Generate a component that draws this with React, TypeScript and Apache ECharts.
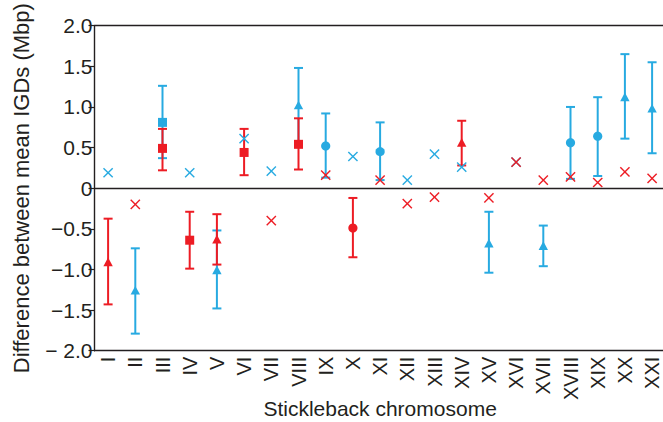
import React, { useEffect, useRef } from "react";
import * as echarts from "echarts";

const categories = ["I","II","III","IV","V","VI","VII","VIII","IX","X","XI","XII","XIII","XIV","XV","XVI","XVII","XVIII","XIX","XX","XXI"];

const redValue = [-0.92, -0.20, 0.49, -0.64, -0.64, 0.44, -0.40, 0.54, 0.16, -0.49, 0.10, -0.19, -0.11, 0.55, -0.12, 0.32, 0.10, 0.14, 0.07, 0.20, 0.12];
const redLow: (number | null)[] = [-1.43, null, 0.22, -0.99, -0.94, 0.16, null, 0.23, null, -0.85, null, null, null, 0.28, null, null, null, null, null, null, null];
const redHigh: (number | null)[] = [-0.375, null, 0.73, -0.29, -0.32, 0.73, null, 0.86, null, -0.12, null, null, null, 0.83, null, null, null, null, null, null, null];
const redMarker = ["triangle","cross","square","square","triangle","square","cross","square","cross","circle","cross","cross","cross","triangle","cross","cross","cross","cross","cross","cross","cross"];

const blueValue = [0.19, -1.27, 0.81, 0.19, -1.02, 0.61, 0.21, 1.01, 0.52, 0.39, 0.45, 0.10, 0.42, 0.26, -0.69, 0.32, -0.72, 0.56, 0.64, 1.11, 0.97];
const blueLow: (number | null)[] = [null, -1.79, 0.37, null, -1.48, null, null, 0.54, 0.13, null, 0.10, null, null, null, -1.04, null, -0.96, 0.115, 0.15, 0.61, 0.43];
const blueHigh: (number | null)[] = [null, -0.74, 1.26, null, -0.52, null, null, 1.48, 0.92, null, 0.81, null, null, null, -0.29, null, -0.46, 1.00, 1.12, 1.65, 1.55];
const blueMarker = ["cross","triangle","square","cross","triangle","cross","cross","triangle","circle","cross","circle","cross","cross","cross","triangle","cross","triangle","circle","circle","triangle","triangle"];

const yTicks = { min: -2, max: 2, interval: 0.5 };

const RED = "#ED1C24";
const BLUE = "#27AAE1";
const INK = "#231F20";
const FONT = "'Liberation Sans', Arial, Helvetica, sans-serif";

function barSeries(name: string, values: number[], low: (number | null)[], high: (number | null)[], color: string) {
  return {
    name,
    type: "custom",
    xAxisIndex: 0,
    yAxisIndex: 0,
    data: values.map((v, i) => [i, v]),
    renderItem: (params: any, api: any) => {
      const i = params.dataIndex;
      const lo = low[i];
      const hi = high[i];
      if (lo == null || hi == null) return { type: "group", children: [] };
      const pLo = api.coord([i, lo]);
      const pHi = api.coord([i, hi]);
      const x = pLo[0];
      const cap = 4.5;
      const style = { stroke: color, lineWidth: 2, fill: null };
      return {
        type: "group",
        children: [
          { type: "line", shape: { x1: x, y1: pLo[1], x2: x, y2: pHi[1] }, style },
          { type: "line", shape: { x1: x - cap, y1: pLo[1], x2: x + cap, y2: pLo[1] }, style },
          { type: "line", shape: { x1: x - cap, y1: pHi[1], x2: x + cap, y2: pHi[1] }, style },
        ],
      };
    },
  };
}

function markerSeries(name: string, values: number[], markers: string[], color: string) {
  return {
    name,
    type: "custom",
    xAxisIndex: 0,
    yAxisIndex: 0,
    data: values.map((v, i) => [i, v]),
    renderItem: (params: any, api: any) => {
      const i = params.dataIndex;
      const p = api.coord([i, values[i]]);
      const [x, y] = p;
      const m = markers[i];
      if (m === "triangle") {
        return { type: "polygon", shape: { points: [[x, y - 5.5], [x - 4.7, y + 3.2], [x + 4.7, y + 3.2]] }, style: { fill: color } };
      }
      if (m === "square") {
        return { type: "rect", shape: { x: x - 4.5, y: y - 4.5, width: 9, height: 9 }, style: { fill: color } };
      }
      if (m === "circle") {
        return { type: "circle", shape: { cx: x, cy: y, r: 4.6 }, style: { fill: color } };
      }
      const s = 4.6;
      const st = { stroke: color, lineWidth: 1.4, fill: null };
      return {
        type: "group",
        children: [
          { type: "line", shape: { x1: x - s, y1: y - s, x2: x + s, y2: y + s }, style: st },
          { type: "line", shape: { x1: x - s, y1: y + s, x2: x + s, y2: y - s }, style: st },
        ],
      };
    },
  };
}

export default function App() {
  const ref = useRef<HTMLDivElement>(null);
  useEffect(() => {
    document.body.style.margin = "0";
    const chart = echarts.init(ref.current!, null, { renderer: "svg" });
    chart.setOption({
      animation: false,
      backgroundColor: "#ffffff",
      grid: { left: 94.5, top: 25.7, width: 571.2, height: 325, containLabel: false, outerBoundsMode: "none" },
      xAxis: [
        {
          type: "category",
          data: categories,
          position: "bottom",
          boundaryGap: true,
          axisLine: { show: true, onZero: false, lineStyle: { color: INK, width: 1.4 } },
          axisTick: { show: false },
          axisLabel: { rotate: 90, interval: 0, margin: 6, color: INK, fontSize: 20, fontFamily: FONT },
          name: "Stickleback chromosome",
          nameLocation: "middle",
          nameGap: 47,
          nameMoveOverlap: false,
          nameTextStyle: { color: INK, fontSize: 21, fontFamily: FONT },
          splitLine: { show: false },
        },
        {
          type: "category",
          data: categories,
          position: "top",
          axisLine: { show: true, onZero: false, lineStyle: { color: INK, width: 1.4 } },
          axisTick: { show: false },
          axisLabel: { show: false },
          splitLine: { show: false },
        },
      ],
      yAxis: {
        type: "value",
        min: yTicks.min,
        max: yTicks.max,
        interval: yTicks.interval,
        axisLine: { show: true, onZero: false, lineStyle: { color: INK, width: 1.4 } },
        axisTick: { show: true, inside: false, length: 6, lineStyle: { color: INK, width: 1.2 } },
        axisLabel: {
          margin: 2,
          color: INK,
          fontSize: 21,
          fontFamily: FONT,
          formatter: (v: number) => {
            if (v === 0) return "0";
            if (v === -2) return "\u2212 2.0";
            if (v < 0) return "\u2212" + Math.abs(v).toFixed(1);
            return v.toFixed(1);
          },
        },
        splitLine: { show: false },
        name: "Difference between mean IGDs (Mbp)",
        nameLocation: "middle",
        nameGap: 62,
        nameMoveOverlap: false,
        nameTextStyle: { color: INK, fontSize: 22, fontFamily: FONT },
      },
      series: [
        {
          ...barSeries("blueBars", blueValue, blueLow, blueHigh, BLUE),
          z: 2,
        },
        {
          ...barSeries("redBars", redValue, redLow, redHigh, RED),
          z: 3,
          markLine: {
            silent: true,
            symbol: ["none", "none"],
            label: { show: false },
            lineStyle: { color: INK, width: 1.3, type: "solid" },
            data: [{ yAxis: 0 }],
          },
        },
        { ...markerSeries("blueMarkers", blueValue, blueMarker, BLUE), z: 4 },
        { ...markerSeries("redMarkers", redValue, redMarker, RED), z: 5 },
      ],
    });
    return () => chart.dispose();
  }, []);
  return <div ref={ref} style={{ position: "absolute", left: 0, top: 0, width: 663, height: 422 }} />;
}
